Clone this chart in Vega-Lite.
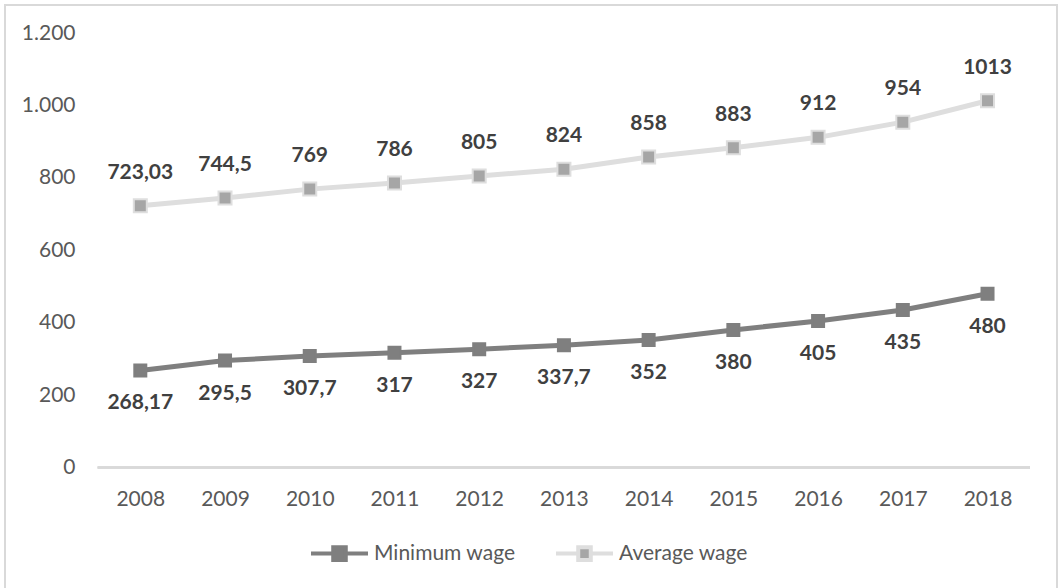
{
  "$schema": "https://vega.github.io/schema/vega-lite/v6.json",
  "width": 1052,
  "height": 584,
  "padding": {"left": 5, "top": 5, "right": 3, "bottom": 0},
  "autosize": {"type": "none"},
  "background": "white",
  "config": {
    "locale": {"number": {"decimal": ",", "thousands": ".", "grouping": [3], "currency": ["", " €"]}},
    "view": {"stroke": "#d9d9d9", "strokeWidth": 2},
    "font": "Lato",
    "legend": {
      "orient": "none",
      "legendX": 304,
      "legendY": 518,
      "direction": "horizontal",
      "padding": 0,
      "symbolType": "M-1,0H-0.22M0.22,0H1M-0.22,-0.22H0.22V0.22H-0.22Z",
      "symbolSize": 3249,
      "symbolStrokeWidth": 4,
      "labelFont": "Lato",
      "labelFontSize": 21,
      "labelColor": "#595959",
      "labelOffset": 4,
      "columnPadding": 32
    }
  },
  "data": {
    "values": [
      {"year": 2008, "series": "Minimum wage", "value": 268.17},
      {"year": 2009, "series": "Minimum wage", "value": 295.5},
      {"year": 2010, "series": "Minimum wage", "value": 307.7},
      {"year": 2011, "series": "Minimum wage", "value": 317},
      {"year": 2012, "series": "Minimum wage", "value": 327},
      {"year": 2013, "series": "Minimum wage", "value": 337.7},
      {"year": 2014, "series": "Minimum wage", "value": 352},
      {"year": 2015, "series": "Minimum wage", "value": 380},
      {"year": 2016, "series": "Minimum wage", "value": 405},
      {"year": 2017, "series": "Minimum wage", "value": 435},
      {"year": 2018, "series": "Minimum wage", "value": 480},
      {"year": 2008, "series": "Average wage", "value": 723.03},
      {"year": 2009, "series": "Average wage", "value": 744.5},
      {"year": 2010, "series": "Average wage", "value": 769},
      {"year": 2011, "series": "Average wage", "value": 786},
      {"year": 2012, "series": "Average wage", "value": 805},
      {"year": 2013, "series": "Average wage", "value": 824},
      {"year": 2014, "series": "Average wage", "value": 858},
      {"year": 2015, "series": "Average wage", "value": 883},
      {"year": 2016, "series": "Average wage", "value": 912},
      {"year": 2017, "series": "Average wage", "value": 954},
      {"year": 2018, "series": "Average wage", "value": 1013}
    ]
  },
  "layer": [
    {
      "mark": {"type": "rule", "color": "#d9d9d9", "strokeWidth": 2},
      "encoding": {
        "x": {"datum": 2007.5, "type": "quantitative", "title": null},
        "x2": {"datum": 2018.5},
        "y": {"datum": 0, "type": "quantitative", "title": null}
      }
    },
    {
      "mark": {"type": "line", "strokeWidth": 5, "strokeJoin": "round", "strokeCap": "round"},
      "encoding": {
        "x": {
          "field": "year",
          "type": "quantitative",
          "scale": {"domain": [2006.403, 2018.82], "nice": false, "zero": false},
          "axis": {
            "values": [2008, 2009, 2010, 2011, 2012, 2013, 2014, 2015, 2016, 2017, 2018],
            "format": "d",
            "title": null,
            "domain": false,
            "ticks": false,
            "tickSize": 0,
            "grid": false,
            "offset": -121.5,
            "labelPadding": 21,
            "labelFont": "Lato",
            "labelFontSize": 21,
            "labelColor": "#595959",
            "labelFlush": false,
            "labelOverlap": false
          }
        },
        "y": {
          "field": "value",
          "type": "quantitative",
          "scale": {"domain": [-335.6, 1277.6], "nice": false, "zero": false},
          "axis": {
            "values": [0, 200, 400, 600, 800, 1000, 1200],
            "format": ",d",
            "title": null,
            "domain": false,
            "ticks": false,
            "tickSize": 0,
            "grid": false,
            "offset": -70,
            "labelPadding": 0,
            "labelFont": "Lato",
            "labelFontSize": 21,
            "labelColor": "#595959"
          }
        },
        "stroke": {
          "field": "series",
          "type": "nominal",
          "scale": {"domain": ["Minimum wage", "Average wage"], "range": ["#7f7f7f", "#dedede"]},
          "legend": {
            "title": null,
            "encode": {
              "symbols": {
                "update": {
                  "fill": {"scale": "fill", "field": "value"},
                  "stroke": {"scale": "stroke", "field": "value"},
                  "strokeWidth": {"value": 4},
                  "size": {"value": 3249},
                  "opacity": {"value": 1}
                }
              }
            }
          }
        }
      }
    },
    {
      "transform": [{"filter": "datum.series == 'Minimum wage'"}],
      "mark": {"type": "point", "shape": "square", "filled": true, "opacity": 1, "size": 144, "strokeWidth": 2},
      "encoding": {
        "x": {"field": "year", "type": "quantitative"},
        "y": {"field": "value", "type": "quantitative"},
        "fill": {
          "field": "series",
          "type": "nominal",
          "scale": {"domain": ["Minimum wage", "Average wage"], "range": ["#7f7f7f", "#a6a6a6"]},
          "legend": null
        },
        "stroke": {"field": "series", "type": "nominal"}
      }
    },
    {
      "transform": [{"filter": "datum.series == 'Average wage'"}],
      "mark": {"type": "point", "shape": "square", "filled": true, "opacity": 1, "size": 169, "strokeWidth": 2},
      "encoding": {
        "x": {"field": "year", "type": "quantitative"},
        "y": {"field": "value", "type": "quantitative"},
        "fill": {"field": "series", "type": "nominal", "legend": null},
        "stroke": {"field": "series", "type": "nominal"}
      }
    },
    {
      "transform": [{"filter": "datum.series == 'Average wage'"}],
      "mark": {"type": "text", "font": "Lato", "fontWeight": "bold", "fontSize": 21, "color": "#404040", "dy": -33, "baseline": "middle"},
      "encoding": {
        "x": {"field": "year", "type": "quantitative"},
        "y": {"field": "value", "type": "quantitative"},
        "text": {"field": "value", "type": "quantitative", "format": "~f"}
      }
    },
    {
      "transform": [{"filter": "datum.series == 'Minimum wage'"}],
      "mark": {"type": "text", "font": "Lato", "fontWeight": "bold", "fontSize": 21, "color": "#404040", "dy": 33, "baseline": "middle"},
      "encoding": {
        "x": {"field": "year", "type": "quantitative"},
        "y": {"field": "value", "type": "quantitative"},
        "text": {"field": "value", "type": "quantitative", "format": "~f"}
      }
    }
  ]
}
